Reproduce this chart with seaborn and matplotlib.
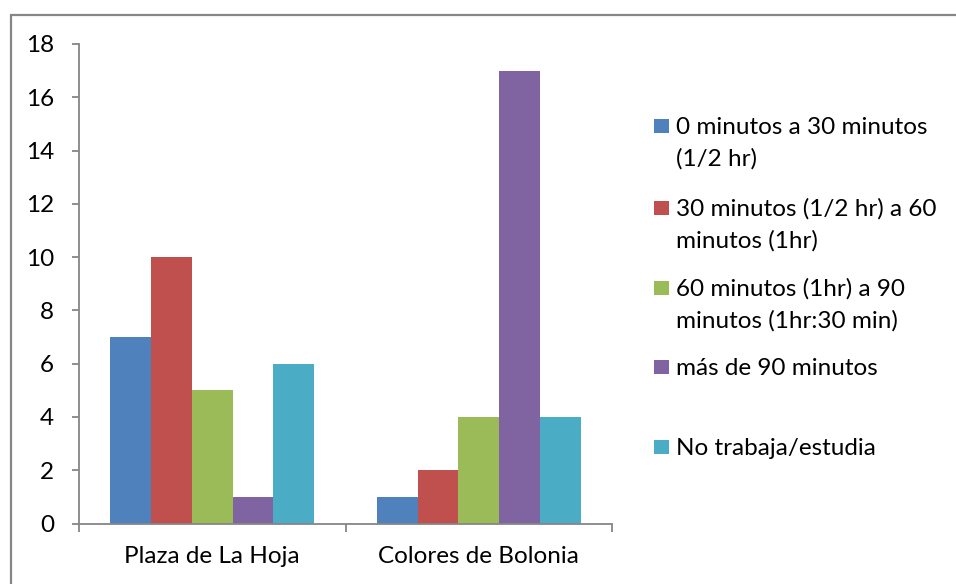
import matplotlib
matplotlib.use("Agg")
import matplotlib.pyplot as plt
from matplotlib.patches import Rectangle
import seaborn as sns
import pandas as pd

# Survey: commute time by neighbourhood
barrios = ["Plaza de La Hoja", "Colores de Bolonia"]
rangos = [
    "0 minutos a 30 minutos\n(1/2 hr)",
    "30 minutos (1/2 hr) a 60\nminutos (1hr)",
    "60 minutos (1hr) a 90\nminutos (1hr:30 min)",
    "más de 90 minutos",
    "No trabaja/estudia",
]
plaza_la_hoja = [7, 10, 5, 1, 6]
colores_bolonia = [1, 2, 4, 17, 4]
colores = ["#4F81BD", "#C0504D", "#9BBB59", "#8064A2", "#4BACC6"]
yticks = list(range(0, 20, 2))

rows = []
for barrio, valores in zip(barrios, [plaza_la_hoja, colores_bolonia]):
    for rango, v in zip(rangos, valores):
        rows.append({"barrio": barrio, "rango": rango, "personas": v})
df = pd.DataFrame(rows)

sns.set_theme(style="white")
plt.rcParams["font.family"] = ["Lato", "DejaVu Sans"]
FS = 17.5

W, H = 956, 584
fig = plt.figure(figsize=(W / 100, H / 100), dpi=100)
ax = fig.add_axes([79 / W, 1 - 523.5 / H, (612 - 79) / W, (523.5 - 44) / H])

sns.barplot(data=df, x="barrio", y="personas", hue="rango", hue_order=rangos,
            order=barrios, palette=colores, width=0.766, saturation=1,
            edgecolor="none", linewidth=0, legend=False, ax=ax)

ax.set_xlim(-0.5, 1.5)
ax.set_ylim(0, 18)
ax.set_yticks(yticks)
ax.set_yticklabels([str(t) for t in yticks])
ax.set_xlabel("")
ax.set_ylabel("")

grey = "#868686"
for side in ["top", "right"]:
    ax.spines[side].set_visible(False)
for side in ["left", "bottom"]:
    ax.spines[side].set_color(grey)
    ax.spines[side].set_linewidth(1.3)

# category boundaries carry the tick marks, names sit between them
ax.set_xticks([-0.5, 0.5, 1.5])
ax.set_xticklabels(["", "", ""])
ax.set_xticks([0, 1], minor=True)
ax.set_xticklabels(barrios, minor=True)
ax.tick_params(axis="x", which="major", length=6, width=1.3, color=grey, direction="out")
ax.tick_params(axis="x", which="minor", length=0, pad=16, labelsize=FS, labelcolor="#000000")
ax.tick_params(axis="y", length=5, width=1.3, color=grey, direction="out",
               pad=13, labelsize=FS, labelcolor="#000000")
ax.tick_params(left=True, bottom=True)
ax.tick_params(axis="x", which="minor", bottom=True)

# outer chart frame
fig.patches.append(Rectangle((11 / W, -0.1), 1.2, 1 - 15 / H + 0.1,
                             transform=fig.transFigure, fill=False,
                             edgecolor=grey, linewidth=1.6))

# legend, one block per range (baseline of first line in pixels from top)
legend_base = [134, 216, 296, 375, 455]
line_gap = 32
for y, rango, c in zip(legend_base, rangos, colores):
    fig.patches.append(Rectangle((654 / W, 1 - (y - 1) / H), 15 / W, 14 / H,
                                 transform=fig.transFigure, facecolor=c,
                                 edgecolor="none"))
    for k, linea in enumerate(rango.split("\n")):
        fig.text(676 / W, 1 - (y + k * line_gap) / H, linea, ha="left",
                 va="baseline", fontsize=FS, color="#000000")

fig.savefig("out.png", dpi=100, facecolor="white")
